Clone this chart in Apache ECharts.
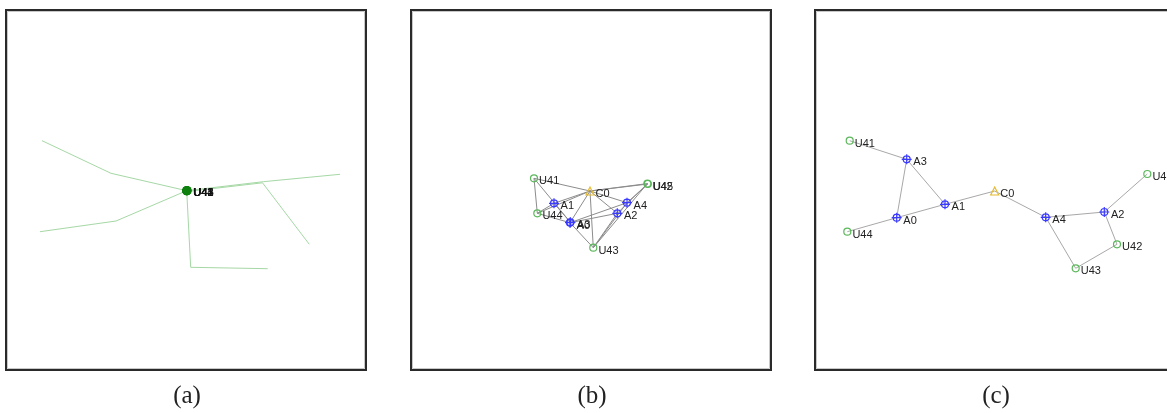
<!DOCTYPE html>
<html>
<head>
<meta charset="utf-8">
<script src="https://cdn.jsdelivr.net/npm/echarts@6/dist/echarts.min.js"></script>
<style>html,body{margin:0;padding:0;background:#fff;}#c{width:1167px;height:413px;}</style>
</head>
<body>
<div id="c"></div>
<script>
// Node names and kinds
const nodeNames = ['C0','A0','A1','A2','A3','A4','U41','U42','U43','U44','U45'];
// Panel (a): all nodes collapsed at the centre
const xA = [181.7,181.7,181.7,181.7,181.7,181.7,181.7,182.0,181.8,181.5,182.2];
const yA = [181.7,181.7,181.7,181.7,181.7,181.7,181.7,181.9,181.6,181.8,181.5];
// Panel (a): user trajectories
const tracksA = [
  [[37,131.7],[106,164.3],[181.7,181.7]],
  [[35,222.7],[111,212],[181.7,181.7]],
  [[262.7,259.7],[185.7,258.3],[181.7,181.7]],
  [[335,165.3],[258.3,172.7],[181.7,181.7]],
  [[304.3,235.3],[257.5,173.8],[182.5,182.5]]
];
// Panel (b) node positions
const xB = [180,160,144,207.3,160.4,217,124,237.4,183.3,127.3,237.8];
const yB = [182,213.7,194.3,204.3,213.3,193.7,169.3,174.6,238.7,204.3,175];
// Panel (c) node positions
const xC = [180.7,82.7,131,290.3,92.7,231.7,35.7,303,261.7,33.3,333.3];
const yC = [182,208.7,195.3,203,150.3,208.3,131.7,235.3,259.3,222.7,165];
// Links
const linksB = [['U41','C0'],['U41','U44'],['U41','A3'],['U44','A1'],['A1','C0'],['U44','C0'],['U44','A0'],['A0','C0'],['C0','U43'],['C0','A2'],['C0','A4'],['C0','U45'],['C0','U42'],['A0','A4'],['A0','A2'],['A4','U45'],['A2','U42'],['A2','U43'],['U42','U43'],['A4','U43'],['A0','U43'],['A3','A1']];
const linksC = [['U41','A3'],['A3','A0'],['A3','A1'],['A0','A1'],['U44','A0'],['A1','C0'],['C0','A4'],['A4','A2'],['A2','U45'],['A2','U42'],['U42','U43'],['U43','A4']];
const captions = ['(a)','(b)','(c)'];

const panelLeft = [5, 410, 814];
const panelSize = 362;
const pageW = 1167;
const crossPath = 'path://M5,0 L5,10 M0,5 L10,5 M8.5,5 A3.5,3.5 0 1,1 1.5,5 A3.5,3.5 0 1,1 8.5,5 Z';

function kindStyle(name) {
  if (name[0] === 'U') return {symbol:'circle', symbolSize:7, itemStyle:{color:'rgba(255,255,255,0)', borderColor:'#5cb85c', borderWidth:1.2}};
  if (name[0] === 'A') return {symbol:crossPath, symbolSize:10, itemStyle:{color:'rgba(255,255,255,0)', borderColor:'#3a3aff', borderWidth:1.2}};
  return {symbol:'triangle', symbolSize:8, itemStyle:{color:'rgba(255,255,255,0)', borderColor:'#e6bb33', borderWidth:1.2}};
}
const labelStyle = {show:true, position:'right', distance:1, offset:[0,3], fontSize:11, fontFamily:'Liberation Sans', color:'#222'};

function nodesFor(xs, ys) {
  return nodeNames.map((n,i) => Object.assign({name:n, value:[xs[i], ys[i]]}, kindStyle(n)));
}

const grids = [], xAxes = [], yAxes = [];
for (let i = 0; i < 3; i++) {
  const w = Math.min(panelSize, pageW - panelLeft[i]);
  grids.push({left:panelLeft[i], top:9, width:w, height:panelSize, show:false});
  xAxes.push({type:'value', gridIndex:i, min:0, max:w, show:false});
  yAxes.push({type:'value', gridIndex:i, min:0, max:panelSize, inverse:true, show:false});
}

// panel (a) nodes: users as solid dark-green dots, C0 as yellow centre
const nodesA = nodeNames.map((n,i) => {
  const d = {name:n, value:[xA[i], yA[i]]};
  if (n[0] === 'U') { d.symbol='circle'; d.symbolSize=9; d.itemStyle={color:'#0d800d'}; d.label={show:true, position:'right', distance:2, offset:[0,2], fontSize:11, fontFamily:'Liberation Sans', color:'#111'}; }
  else if (n[0] === 'A') { d.symbol='circle'; d.symbolSize=8; d.itemStyle={color:'#0d800d'}; d.label={show:false}; }
  else { d.symbol='circle'; d.symbolSize=3; d.itemStyle={color:'#f2e000'}; d.label={show:false}; d.z=10; }
  return d;
});

const frames = [];
panelLeft.forEach((l) => {
  frames.push({type:'rect', silent:true, z:100, shape:{x:l+1, y:10, width:panelSize-2, height:panelSize-2}, style:{fill:null, stroke:'#2a2a2a', lineWidth:2}});
  frames.push({type:'rect', silent:true, z:99, shape:{x:l+2.5, y:11.5, width:panelSize-5, height:panelSize-5}, style:{fill:null, stroke:'#c8c8c8', lineWidth:1}});
});

const option = {
  animation:false,
  backgroundColor:'#fff',
  grid:grids, xAxis:xAxes, yAxis:yAxes,
  series:[
    {type:'lines', coordinateSystem:'cartesian2d', xAxisIndex:0, yAxisIndex:0, polyline:true, silent:true,
     lineStyle:{color:'#a6d8a6', width:1, opacity:1},
     data: tracksA.map(t => ({coords:t}))},
    {type:'graph', layout:'none', coordinateSystem:'cartesian2d', xAxisIndex:0, yAxisIndex:0, z:5,
     data:nodesA, links:[], emphasis:{disabled:true}},
    {type:'graph', layout:'none', coordinateSystem:'cartesian2d', xAxisIndex:1, yAxisIndex:1,
     data:nodesFor(xB,yB), label:labelStyle, emphasis:{disabled:true},
     links:linksB.map(l => ({source:l[0], target:l[1]})),
     lineStyle:{color:'#8c8c8c', width:1, opacity:1, curveness:0}},
    {type:'graph', layout:'none', coordinateSystem:'cartesian2d', xAxisIndex:2, yAxisIndex:2,
     data:nodesFor(xC,yC), label:labelStyle, emphasis:{disabled:true},
     links:linksC.map(l => ({source:l[0], target:l[1]})),
     lineStyle:{color:'#a8a8a8', width:1, opacity:1, curveness:0}}
  ],
  graphic: frames.concat(captions.map((c,i) => ({type:'text', x:panelLeft[i]+182, y:396,
     style:{text:c, font:'25px "Liberation Serif"', fill:'#222', align:'center', verticalAlign:'middle'}})))
};
const chart = echarts.init(document.getElementById('c'), null, {renderer:'canvas'});
chart.setOption(option);
</script>
</body>
</html>
